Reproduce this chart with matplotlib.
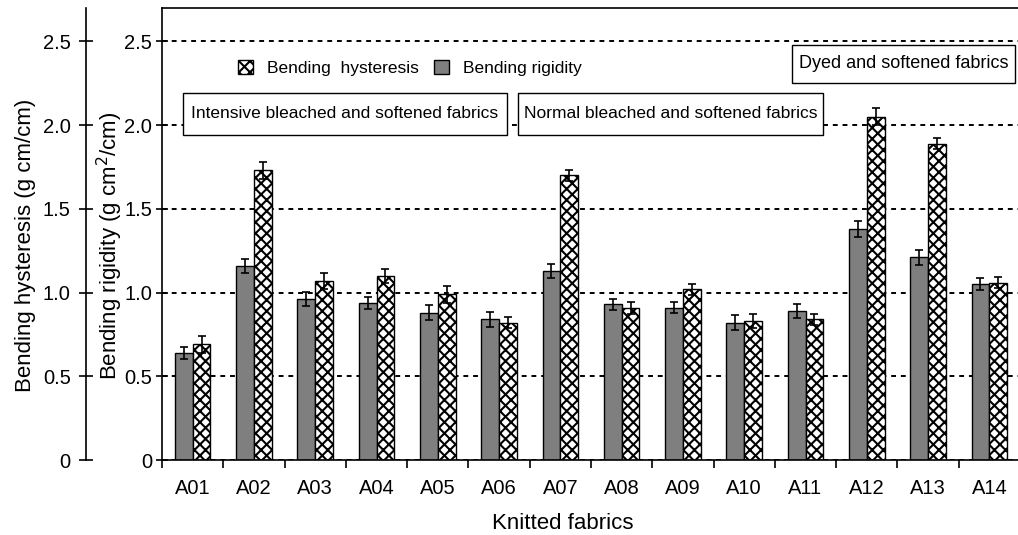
import matplotlib.pyplot as plt
from matplotlib.patches import Rectangle
import numpy as np

plt.rcParams['font.family'] = ['Liberation Sans', 'DejaVu Sans']
plt.rcParams['hatch.linewidth'] = 1.5

# data
fabrics      = ['A01', 'A02', 'A03', 'A04', 'A05', 'A06', 'A07',
                'A08', 'A09', 'A10', 'A11', 'A12', 'A13', 'A14']
rigidity     = [0.64, 1.16, 0.96, 0.94, 0.88, 0.84, 1.13,
                0.93, 0.91, 0.82, 0.89, 1.38, 1.21, 1.05]
rigidity_err = [0.034, 0.04, 0.042, 0.036, 0.044, 0.046, 0.04,
                0.032, 0.034, 0.044, 0.042, 0.05, 0.046, 0.036]
hysteresis   = [0.69, 1.73, 1.07, 1.10, 0.99, 0.82, 1.70,
                0.91, 1.02, 0.83, 0.84, 2.05, 1.89, 1.06]
hyst_err     = [0.05, 0.05, 0.05, 0.04, 0.05, 0.034, 0.034,
                0.036, 0.034, 0.044, 0.034, 0.05, 0.032, 0.034]
yticks       = [0, 0.5, 1.0, 1.5, 2.0, 2.5]
ytick_labels = ['0', '0.5', '1.0', '1.5', '2.0', '2.5']

W, H = 1018, 535
fig = plt.figure(figsize=(W / 100, H / 100), dpi=100)

# main axes (bending rigidity)
ax = fig.add_axes([162 / W, 75 / H, 858 / W, 452 / H])
x = np.arange(len(fabrics))
bw = 0.29

ax.bar(x - bw, rigidity, width=bw, align='edge', color='#7f7f7f',
       edgecolor='black', linewidth=1.0, zorder=2)
ax.bar(x, hysteresis, width=bw, align='edge', color='white',
       edgecolor='black', linewidth=1.0, hatch='xxx', zorder=2)
ax.errorbar(x - bw / 2, rigidity, yerr=rigidity_err, fmt='none',
            ecolor='black', elinewidth=1.2, capsize=3, capthick=1.2, zorder=3)
ax.errorbar(x + bw / 2, hysteresis, yerr=hyst_err, fmt='none',
            ecolor='black', elinewidth=1.2, capsize=3, capthick=1.2, zorder=3)

ax.set_xlim(-0.5, len(fabrics) - 0.5)
ax.set_ylim(0, 2.7)
ax.set_yticks(yticks)
ax.set_yticklabels(ytick_labels, fontsize=14.5)
ax.tick_params(axis='y', direction='inout', length=8, width=1.2, pad=3)
ax.set_xticks(x)
ax.set_xticklabels(fabrics, fontsize=14.5)
ax.tick_params(axis='x', which='major', length=0, pad=14)
ax.set_xticks(np.arange(-0.5, len(fabrics), 1.0), minor=True)
ax.tick_params(axis='x', which='minor', direction='out', length=6, width=1.2)

for s in ['left', 'bottom', 'top']:
    ax.spines[s].set_linewidth(1.2)
ax.spines['right'].set_visible(False)

ax.set_axisbelow(True)
ax.yaxis.grid(True, color='black', linestyle=(0, (2.5, 2.5)), linewidth=1.4)

ax.set_ylabel('Bending rigidity (g cm$^2$/cm)', fontsize=16)
ax.yaxis.set_label_coords((125 - 162) / 858, 0.473)
ax.set_xlabel('Knitted fabrics', fontsize=16)
ax.xaxis.set_label_coords((563 - 162) / 858, (460 - 513) / 452)

# legend
gray_patch = Rectangle((0, 0), 1, 1, facecolor='#7f7f7f', edgecolor='black', linewidth=1.0)
hatch_patch = Rectangle((0, 0), 1, 1, facecolor='white', edgecolor='black', linewidth=1.0, hatch='xxx')
ax.legend([hatch_patch, gray_patch], ['Bending  hysteresis', 'Bending rigidity'],
          loc='center left', bbox_to_anchor=((238 - 162) / 858, (460 - 68) / 452),
          ncol=2, frameon=False, fontsize=12.5, borderpad=0, borderaxespad=0,
          handlelength=0.86, handleheight=0.86, handletextpad=0.8, columnspacing=0.9)

# group boxes
boxes = [
    ('Intensive bleached and softened fabrics', 183, 507, 93, 135, 12.5),
    ('Normal bleached and softened fabrics', 518, 823, 93, 135, 12.5),
    ('Dyed and softened fabrics', 792, 1015, 45, 83, 13),
]
for txt, x0, x1, y0, y1, fs in boxes:
    bx = (x0 - 162) / 858
    bwid = (x1 - x0) / 858
    by = (460 - y1) / 452
    bh = (y1 - y0) / 452
    ax.add_patch(Rectangle((bx, by), bwid, bh, transform=ax.transAxes,
                           facecolor='white', edgecolor='black', linewidth=1.0,
                           zorder=4, clip_on=False))
    ax.text(bx + bwid / 2, by + bh / 2, txt, transform=ax.transAxes,
            ha='center', va='center', fontsize=fs, zorder=5)

# outer axis (bending hysteresis)
axo = fig.add_axes([86 / W, 75 / H, 0.0001, 452 / H])
axo.set_ylim(0, 2.7)
axo.set_yticks(yticks)
axo.set_yticklabels(ytick_labels, fontsize=14.5)
axo.tick_params(axis='y', direction='inout', length=10, width=1.2, pad=6)
axo.set_xticks([])
for s in ['right', 'bottom', 'top']:
    axo.spines[s].set_visible(False)
axo.spines['left'].set_linewidth(1.2)
axo.patch.set_visible(False)
axo.set_ylabel('Bending hysteresis (g cm/cm)', fontsize=16)
axo.yaxis.set_label_coords(36 / W, (535 - 245) / 535, transform=fig.transFigure)

fig.savefig('out.png', dpi=100)
